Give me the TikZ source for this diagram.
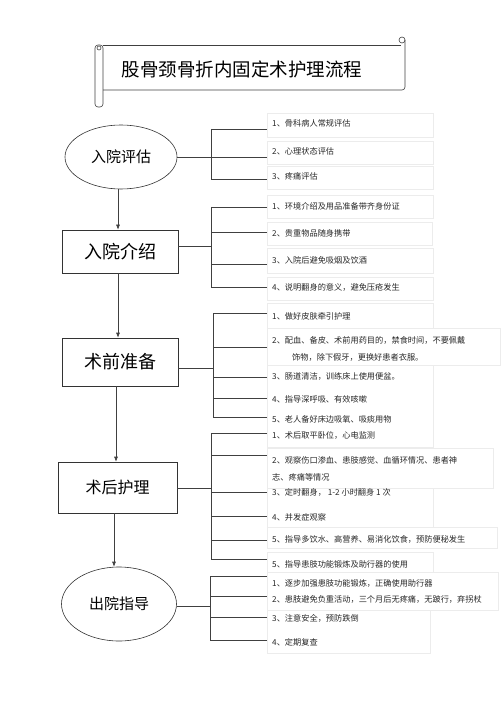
\documentclass[tikz,border=0pt]{standalone}
\usepackage{fontspec}
\setmainfont{Noto Sans CJK SC}
\usetikzlibrary{shapes,arrows,positioning,calc,arrows.meta}

\tikzset{
  stage/.style={draw=black!80, line width=0.6pt, inner sep=0pt, font=\fontsize{18}{18}\selectfont},
  item/.style={anchor=west, inner sep=0pt, text=black!85, font=\fontsize{8.2}{10}\selectfont},
  faint/.style={draw=gray!15, line width=0.5pt},
  link/.style={draw=black!75, line width=0.6pt},
  go/.style={link, -{Latex[length=5pt,width=4pt]}},
}

\begin{document}
\begin{tikzpicture}[x=1pt, y=-1pt]
    \useasboundingbox (0,0) rectangle (500,708);

    % title scroll
    \draw[link, rounded corners=3pt] (95,45) rectangle (103,107);
    \draw[link] (99,48) circle (2);
    \draw[link] (103,45) -- (401,45);
    \draw[link, rounded corners=3pt] (405,40) -- (405,90) -- (103,90);
    \draw[link] (402,40) circle (3);
    \node[font=\fontsize{18.5}{18.5}\selectfont] (title) at (242,69) {股骨颈骨折内固定术护理流程};

    % faint text frames
    \foreach \a/\b/\c/\d in {267/113/433/137, 267/141/433/164, 267/166/433/189,
        267/195/433/218, 267/222/432/245, 267/248/433/273, 267/277/433/300,
        267/303/433/328, 267/328/500/365, 267/365/433/447,
        267/448/493/488, 267/488/433/527, 267/527/497/548, 267/552/433/572,
        267/572/498/610, 267/610/430/653}
      \draw[faint] (\a,\b) rectangle (\c,\d);

    % stages
    \node[stage, ellipse, minimum width=112pt, minimum height=64pt, font=\fontsize{15}{15}\selectfont] (s1) at (121,157) {入院评估};
    \node[stage, rectangle, minimum width=116pt, minimum height=43pt] (s2) at (120,251.5) {入院介绍};
    \node[stage, rectangle, minimum width=116pt, minimum height=48pt] (s3) at (120,362) {术前准备};
    \node[stage, rectangle, minimum width=119pt, minimum height=51pt, font=\fontsize{16}{16}\selectfont] (s4) at (117.5,487.5) {术后护理};
    \node[stage, ellipse, minimum width=115pt, minimum height=74pt, font=\fontsize{15}{15}\selectfont] (s5) at (119,604) {出院指导};

    \draw[go] (s1.south -| 118,0) -- (s2.north -| 118,0);
    \draw[go] (s2.south -| 118,0) -- (s3.north -| 118,0);
    \draw[go] (s3.south -| 116,0) -- (s4.north -| 116,0);
    \draw[go] (s4.south -| 114,0) -- (s5.north -| 114,0);

    % brackets
    \coordinate (j1) at (211,157);
    \draw[link] (j1 -| s1.east) -- (j1);
    \foreach \y [count=\i] in {129,157,179} {
      \coordinate (e1\i) at (267,\y);
      \draw[link] (e1\i -| j1) -- (e1\i);
    }
    \draw[link] (e11 -| j1) -- (e13 -| j1);

    \coordinate (j2) at (211,246);
    \draw[link] (j2 -| s2.east) -- (j2);
    \foreach \y [count=\i] in {207,232,264,287} {
      \coordinate (e2\i) at (267,\y);
      \draw[link] (e2\i -| j2) -- (e2\i);
    }
    \draw[link] (e21 -| j2) -- (e24 -| j2);

    \coordinate (j3) at (213,368);
    \draw[link] (j3 -| s3.east) -- (j3);
    \foreach \y [count=\i] in {313,347,377,398,417} {
      \coordinate (e3\i) at (267,\y);
      \draw[link] (e3\i -| j3) -- (e3\i);
    }
    \draw[link] (e31 -| j3) -- (e35 -| j3);

    \coordinate (j4) at (211,488);
    \draw[link] (j4 -| s4.east) -- (j4);
    \foreach \y [count=\i] in {433,455,492,516,540,559} {
      \coordinate (e4\i) at (267,\y);
      \draw[link] (e4\i -| j4) -- (e4\i);
    }
    \draw[link] (e41 -| j4) -- (e46 -| j4);

    \coordinate (j5) at (210,606);
    \draw[link] (j5 -| s5.east) -- (j5);
    \foreach \y [count=\i] in {576,596,617,640} {
      \coordinate (e5\i) at (267,\y);
      \draw[link] (e5\i -| j5) -- (e5\i);
    }
    \draw[link] (e51 -| j5) -- (e54 -| j5);

    % items
    \node[item] (t11) at (272,123) {1、骨科病人常规评估};
    \node[item] (t12) at (272,151) {2、心理状态评估};
    \node[item] (t13) at (272,176) {3、疼痛评估};

    \node[item] (t21) at (272,206) {1、环境介绍及用品准备带齐身份证};
    \node[item] (t22) at (272,233) {2、贵重物品随身携带};
    \node[item] (t23) at (272,260) {3、入院后避免吸烟及饮酒};
    \node[item] (t24) at (272,287) {4、说明翻身的意义，避免压疮发生};

    \node[item] (t31) at (272,316) {1、做好皮肤牵引护理};
    \node[item] (t32) at (272,340) {2、配血、备皮、术前用药目的，禁食时间，不要佩戴};
    \node[item] (t32b) at (292,357) {饰物，除下假牙，更换好患者衣服。};
    \node[item] (t33) at (272,376) {3、肠道清洁，训练床上使用便盆。};
    \node[item] (t34) at (272,399) {4、指导深呼吸、有效咳嗽};
    \node[item] (t35) at (272,419) {5、老人备好床边吸氧、吸痰用物};

    \node[item] (t41) at (272,435) {1、术后取平卧位，心电监测};
    \node[item] (t42) at (272,460) {2、观察伤口渗血、患肢感觉、血循环情况、患者神};
    \node[item] (t42b) at (272,477) {志、疼痛等情况};
    \node[item] (t43) at (272,492) {3、定时翻身， 1-2 小时翻身 1 次};
    \node[item] (t44) at (272,517) {4、并发症观察};
    \node[item] (t45) at (272,539) {5、指导多饮水、高营养、易消化饮食，预防便秘发生};
    \node[item] (t46) at (272,564) {5、指导患肢功能锻炼及助行器的使用};

    \node[item] (t51) at (272,583) {1、逐步加强患肢功能锻炼，正确使用助行器};
    \node[item] (t52) at (272,599) {2、患肢避免负重活动，三个月后无疼痛，无跛行，弃拐杖};
    \node[item] (t53) at (272,618) {3、注意安全，预防跌倒};
    \node[item] (t54) at (272,642) {4、定期复查};
\end{tikzpicture}
\end{document}
